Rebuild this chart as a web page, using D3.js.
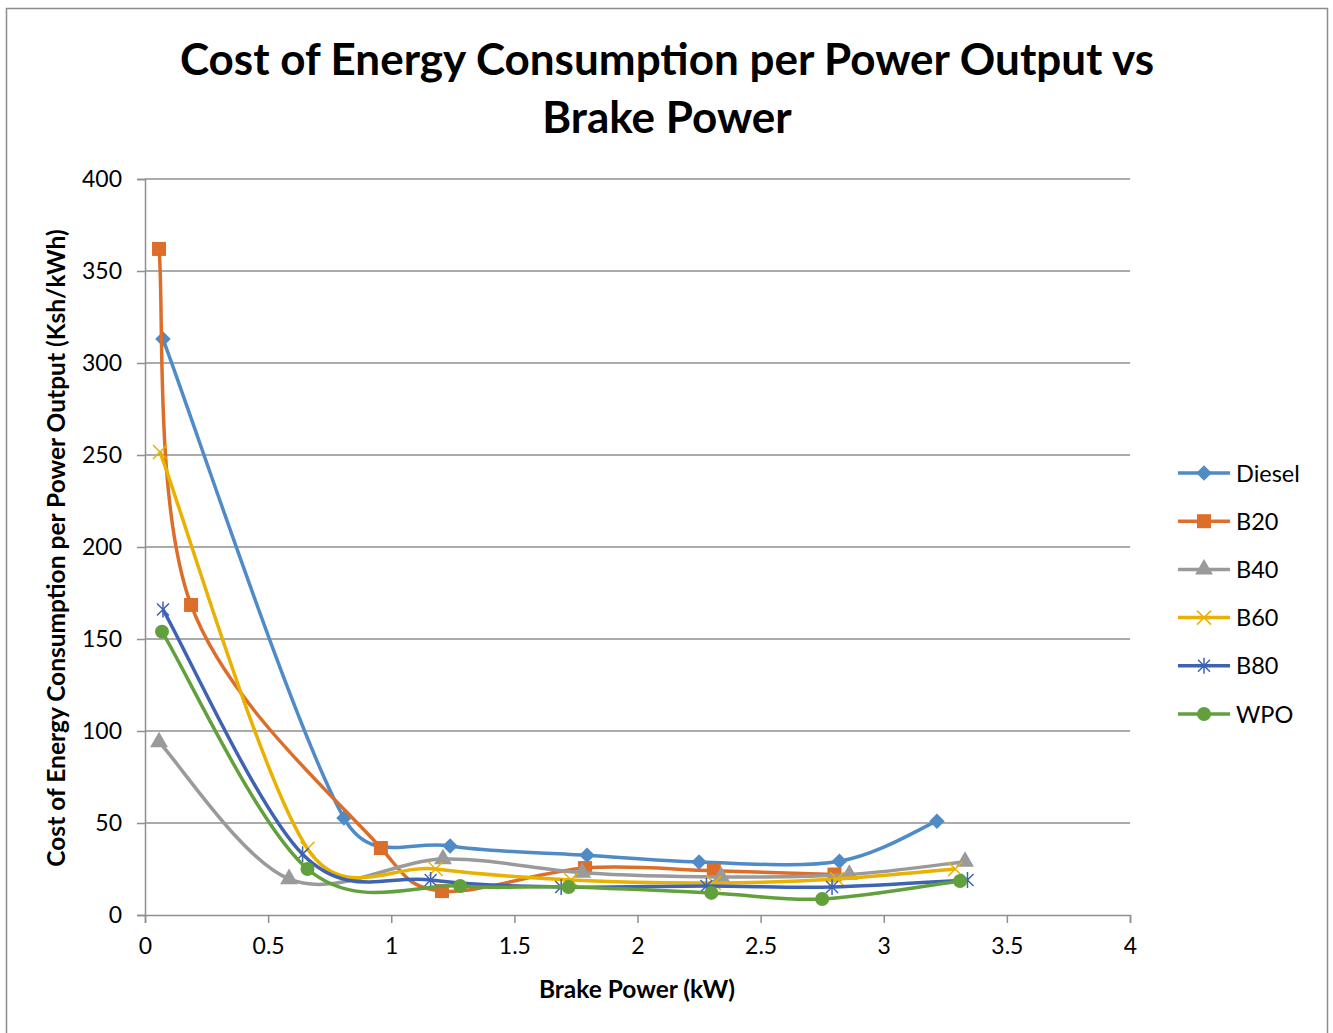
<!DOCTYPE html>
<html>
<head>
<meta charset="utf-8">
<script src="https://cdn.jsdelivr.net/npm/d3@7"></script>
<style>
  html, body { margin: 0; padding: 0; background: #fff; }
  svg { display: block; }
  text { font-family: Lato, "Open Sans", sans-serif; fill: #000; }
</style>
</head>
<body>
<svg id="chart" width="1333" height="1033"></svg>
<script>
// Brake power (kW) and cost of energy per power output (Ksh/kWh) for each fuel
const seriesNames = ["Diesel", "B20", "B40", "B60", "B80", "WPO"];
const seriesColors = ["#4e8bc7", "#dc6e2a", "#9a9a9a", "#e9b100", "#3e63b1", "#62a03d"];
const seriesMarkers = ["diamond", "square", "triangle", "x", "star", "circle"];

const dieselX = [0.073, 0.808, 1.239, 1.795, 2.25, 2.82, 3.216];
const dieselY = [313, 52.7, 37.5, 32.5, 28.8, 29.2, 51];

const b20X = [0.057, 0.187, 0.958, 1.206, 1.787, 2.31, 2.80];
const b20Y = [362, 168.5, 36.4, 13, 25.5, 24, 22];

const b40X = [0.057, 0.585, 1.21, 1.775, 2.34, 2.86, 3.33];
const b40Y = [94, 19.6, 30.4, 23, 20.7, 22, 29];

const b60X = [0.061, 0.66, 1.18, 1.73, 2.31, 2.81, 3.29];
const b60Y = [251.6, 36, 25, 19, 17.4, 19.6, 25];

const b80X = [0.073, 0.64, 1.16, 1.69, 2.28, 2.79, 3.34];
const b80Y = [166, 33, 19, 15.2, 15.8, 15.2, 19];

const wpoX = [0.069, 0.66, 1.28, 1.72, 2.30, 2.75, 3.31];
const wpoY = [154, 25, 15.8, 15.2, 12, 8.7, 18.5];

const xTicks = [0, 0.5, 1, 1.5, 2, 2.5, 3, 3.5, 4];
const yTicks = [0, 50, 100, 150, 200, 250, 300, 350, 400];

const titleLines = ["Cost of Energy Consumption per Power Output vs", "Brake Power"];
const xTitle = "Brake Power (kW)";
const yTitle = "Cost of Energy Consumption per Power Output (Ksh/kWh)";

const seriesX = [dieselX, b20X, b40X, b60X, b80X, wpoX];
const seriesY = [dieselY, b20Y, b40Y, b60Y, b80Y, wpoY];

const svg = d3.select("#chart");

// outer chart frame
svg.append("rect")
  .attr("x", 6.5).attr("y", 8.5)
  .attr("width", 1321).attr("height", 1040)
  .attr("fill", "#fff").attr("stroke", "#8c8c8c").attr("stroke-width", 1.5);

const plot = { left: 145, right: 1130, top: 179, bottom: 915 };

const x = d3.scaleLinear().domain([0, 4]).range([plot.left, plot.right]);
const y = d3.scaleLinear().domain([0, 400]).range([plot.bottom, plot.top]);

// title
svg.append("g").selectAll("text")
  .data(titleLines)
  .join("text")
  .attr("x", 667)
  .attr("y", (d, i) => 75 + i * 58)
  .attr("text-anchor", "middle")
  .attr("font-size", 44)
  .attr("font-weight", 700)
  .text(d => d);

// horizontal gridlines
svg.append("g").selectAll("line")
  .data(yTicks.filter(v => v > 0))
  .join("line")
  .attr("x1", plot.left).attr("x2", plot.right)
  .attr("y1", d => y(d)).attr("y2", d => y(d))
  .attr("stroke", "#8f8f8f").attr("stroke-width", 1.5);

// y axis
const yAxis = svg.append("g")
  .attr("transform", `translate(${plot.left},0)`)
  .call(d3.axisLeft(y).tickValues(yTicks).tickSize(8).tickPadding(15).tickFormat(d3.format("d")));
yAxis.select(".domain").attr("stroke", "#8f8f8f").attr("stroke-width", 1.5);
yAxis.selectAll(".tick line").attr("stroke", "#8f8f8f").attr("stroke-width", 1.5);
yAxis.selectAll(".tick text").attr("font-size", 23).attr("font-family", "Lato, sans-serif").attr("fill", "#000");

// x axis
const xAxis = svg.append("g")
  .attr("transform", `translate(0,${plot.bottom})`)
  .call(d3.axisBottom(x).tickValues(xTicks).tickSize(8).tickPadding(15).tickFormat(d => String(d)));
xAxis.select(".domain").attr("stroke", "#8f8f8f").attr("stroke-width", 1.5);
xAxis.selectAll(".tick line").attr("stroke", "#8f8f8f").attr("stroke-width", 1.5);
xAxis.selectAll(".tick text").attr("font-size", 23).attr("font-family", "Lato, sans-serif").attr("fill", "#000");

// axis titles
svg.append("text")
  .attr("x", 637).attr("y", 998)
  .attr("text-anchor", "middle")
  .attr("font-size", 24.5).attr("font-weight", 700)
  .text(xTitle);

svg.append("text")
  .attr("transform", "translate(65,548) rotate(-90)")
  .attr("text-anchor", "middle")
  .attr("font-size", 24.5).attr("font-weight", 700)
  .text(yTitle);

// marker drawing
function drawMarker(g, kind, color) {
  const s = 7;
  if (kind === "diamond") {
    g.append("rect").attr("x", -5.5).attr("y", -5.5).attr("width", 11).attr("height", 11)
      .attr("transform", "rotate(45)").attr("fill", color);
  } else if (kind === "square") {
    g.append("rect").attr("x", -s).attr("y", -s).attr("width", 2 * s).attr("height", 2 * s).attr("fill", color);
  } else if (kind === "triangle") {
    g.append("path").attr("d", d3.symbol(d3.symbolTriangle, 140)()).attr("fill", color);
  } else if (kind === "circle") {
    g.append("circle").attr("r", 7).attr("fill", color);
  } else if (kind === "x") {
    g.append("path").attr("d", "M-7,-7L7,7M-7,7L7,-7").attr("stroke", color).attr("stroke-width", 1.5).attr("fill", "none");
  } else if (kind === "star") {
    g.append("path").attr("d", "M-6,-6L6,6M-6,6L6,-6M0,-8L0,8").attr("stroke", color).attr("stroke-width", 1.5).attr("fill", "none");
  }
}

// Smoothed line curve: Catmull-Rom style Bezier handles (tangent / 6),
// each handle capped at half the length of the segment it reaches into,
// which keeps short segments from overshooting.
function CappedSmooth(context) { this._context = context; }
CappedSmooth.prototype = {
  areaStart() {}, areaEnd() {},
  lineStart() { this._pts = []; },
  point(px, py) { this._pts.push([+px, +py]); },
  lineEnd() {
    const p = this._pts, n = p.length, c = this._context;
    if (!n) return;
    c.moveTo(p[0][0], p[0][1]);
    if (n === 1) return;
    const dist = (a, b) => Math.hypot(b[0] - a[0], b[1] - a[1]);
    const outH = [], inH = [];
    for (let i = 0; i < n; i++) {
      const prev = p[Math.max(i - 1, 0)], next = p[Math.min(i + 1, n - 1)];
      const tx = (next[0] - prev[0]) / 6, ty = (next[1] - prev[1]) / 6;
      const len = Math.hypot(tx, ty) || 1;
      const dp = i > 0 ? dist(p[i - 1], p[i]) : 0;
      const dn = i < n - 1 ? dist(p[i], p[i + 1]) : 0;
      const so = Math.min(1, (0.5 * dn) / len);
      const si = Math.min(1, (0.5 * dp) / len);
      outH[i] = [p[i][0] + tx * so, p[i][1] + ty * so];
      inH[i] = [p[i][0] - tx * si, p[i][1] - ty * si];
    }
    for (let i = 0; i < n - 1; i++) {
      c.bezierCurveTo(outH[i][0], outH[i][1], inH[i + 1][0], inH[i + 1][1], p[i + 1][0], p[i + 1][1]);
    }
  }
};
const curveSmooth = ctx => new CappedSmooth(ctx);

const line = d3.line()
  .x(d => x(d[0]))
  .y(d => y(d[1]))
  .curve(curveSmooth);

const layer = svg.append("g");
seriesNames.forEach((name, i) => {
  const pts = seriesX[i].map((v, j) => [v, seriesY[i][j]]);
  const g = layer.append("g");
  g.append("path")
    .datum(pts)
    .attr("d", line)
    .attr("fill", "none")
    .attr("stroke", seriesColors[i])
    .attr("stroke-width", 3.5)
    .attr("stroke-linejoin", "round");
  pts.forEach(p => {
    const m = g.append("g").attr("transform", `translate(${x(p[0])},${y(p[1])})`);
    drawMarker(m, seriesMarkers[i], seriesColors[i]);
  });
});

// legend
const legend = svg.append("g");
seriesNames.forEach((name, i) => {
  const ly = 473 + i * 48.2;
  const g = legend.append("g").attr("transform", `translate(0,${ly})`);
  g.append("line").attr("x1", 1178).attr("x2", 1230).attr("y1", 0).attr("y2", 0)
    .attr("stroke", seriesColors[i]).attr("stroke-width", 3.5);
  const m = g.append("g").attr("transform", "translate(1204,0)");
  drawMarker(m, seriesMarkers[i], seriesColors[i]);
  g.append("text").attr("x", 1236).attr("y", 8.5)
    .attr("font-size", 23.5).text(name);
});
</script>
</body>
</html>
